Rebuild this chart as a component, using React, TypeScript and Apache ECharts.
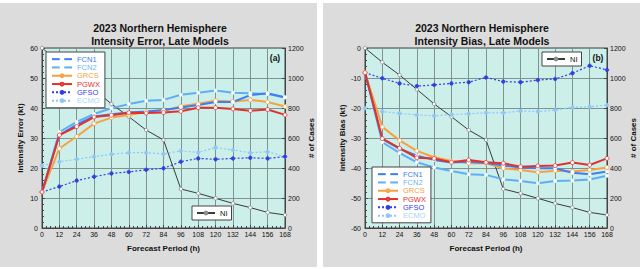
import React, { useEffect, useRef } from 'react';
import * as echarts from 'echarts';

const hours = [0, 12, 24, 36, 48, 60, 72, 84, 96, 108, 120, 132, 144, 156, 168];
const models = ['FCN1', 'FCN2', 'GRCS', 'PGWX', 'GFSO', 'ECMO'];

// Panel (a): intensity error (kt)
const errFCN1 = [12, 31, 34.5, 37.2, 37.9, 38.5, 38.8, 39.3, 40.2, 41, 42, 42, 44.3, 44.9, 43.5];
const errFCN2 = [12, 32, 35.4, 38, 39.9, 41.3, 42.4, 42.7, 44.4, 45.1, 45.8, 45.1, 44.9, 44.7, 43.6];
const errGRCS = [12, 26.5, 30.5, 34.8, 36.8, 37.7, 38.7, 38.9, 40.6, 41.4, 42.4, 42.2, 42.7, 42, 40.5];
const errPGWX = [12, 31, 33.8, 37, 37.6, 38.4, 38.3, 38.5, 38.9, 40.1, 40.1, 39.7, 39.1, 39.5, 37.7];
const errGFSO = [12, 13.8, 15.8, 17.1, 18.2, 18.7, 19.4, 19.9, 22.1, 23.2, 22.9, 23.2, 23.4, 23.2, 23.8];
const errECMO = [20.8, 22.1, 22.9, 23.8, 24.6, 25.1, 25.1, 24.7, 25.7, 25.2, 26.8, 26, 25.1, 25.4, 23.8];

// Panel (b): intensity bias (kt)
const biasFCN1 = [-8.2, -30.3, -33.6, -35.9, -37.3, -38.2, -37.9, -38.3, -39.2, -39.8, -40.1, -40.1, -41.6, -42.1, -41.2];
const biasFCN2 = [-8.2, -31.4, -35, -38.1, -39.8, -41, -42.1, -42.3, -43.8, -44.3, -45.1, -44.3, -44.2, -43.8, -42.6];
const biasGRCS = [-8.2, -26.3, -30.8, -34.3, -36.4, -37.7, -38.4, -38.4, -40.1, -40.7, -41.4, -40.9, -41.2, -40.7, -39.8];
const biasPGWX = [-8.2, -30.2, -33.4, -36.6, -36.8, -38.1, -37.3, -38.1, -38.4, -39.6, -39.3, -39.2, -38.2, -39, -36.8];
const biasGFSO = [-8.2, -10.1, -11.8, -12.7, -12.3, -11.8, -11.4, -9.8, -11.2, -11.4, -10.7, -10.3, -8.4, -5.9, -7.3];
const biasECMO = [-20.1, -21.2, -21.8, -22.3, -22.6, -22.2, -21.9, -21.6, -21.6, -21, -21.2, -20.7, -19.8, -19.6, -19];

// Number of cases (both panels)
const casesNI = [1200, 1105, 1020, 924, 827, 742, 653, 587, 260, 231, 198, 164, 136, 104, 87];

const FONT = 'Liberation Sans, Arial, Helvetica, sans-serif';

const styles: Record<string, any> = {
  FCN1: { line: '#3d7ef2', text: '#3d7ef2', width: 2, type: 'solid', symbol: 'circle', size: 3, fill: '#ffffff', border: '#ffffff' },
  FCN2: { line: '#5eaef6', text: '#6ab6f7', width: 2, type: 'solid', symbol: 'circle', size: 3, fill: '#ffffff', border: '#ffffff' },
  GRCS: { line: '#f7a040', text: '#f7a040', width: 2, type: 'solid', symbol: 'circle', size: 4, fill: '#ffffff', border: '#f7a040' },
  PGWX: { line: '#e4302c', text: '#e4302c', width: 2, type: 'solid', symbol: 'circle', size: 4, fill: '#ffffff', border: '#e4302c' },
  GFSO: { line: '#2f3fe6', text: '#2f3fe6', width: 1.2, type: [2, 2], symbol: 'circle', size: 3.5, fill: '#2f3fe6', border: '#2f3fe6' },
  ECMO: { line: '#8ec8f7', text: '#a8d4f8', width: 1.2, type: [2, 2], symbol: 'circle', size: 3.5, fill: '#8ec8f7', border: '#8ec8f7' },
};

function pairs(vals: number[]) {
  return hours.map((h, i) => [h, vals[i]]);
}

function modelSeries(name: string, vals: number[], gi: number) {
  const s = styles[name];
  return {
    type: 'line', name, xAxisIndex: gi, yAxisIndex: gi * 2,
    data: pairs(vals), symbol: s.symbol, symbolSize: s.size, showSymbol: true,
    lineStyle: { color: s.line, width: s.width, type: s.type },
    itemStyle: { color: s.fill, borderColor: s.border, borderWidth: 0.8 },
    z: 3,
  };
}

function niSeries(gi: number) {
  return {
    type: 'line', name: 'NI', xAxisIndex: gi, yAxisIndex: gi * 2 + 1,
    data: pairs(casesNI), symbol: 'circle', symbolSize: 3.5,
    lineStyle: { color: '#3a3a3a', width: 1 },
    itemStyle: { color: '#ffffff', borderColor: '#888888', borderWidth: 0.8 },
    z: 2,
  };
}

const axisText = { fontSize: 7, color: '#111', fontFamily: FONT };
const nameText = { fontSize: 8, fontWeight: 'bold' as const, color: '#111', fontFamily: FONT };

function xAxis(gi: number) {
  return {
    type: 'value', gridIndex: gi, min: 0, max: 168, interval: 12,
    name: 'Forecast Period (h)', nameLocation: 'middle', nameGap: 16, nameTextStyle: nameText,
    axisLine: { show: true, onZero: false, lineStyle: { color: '#444' } },
    axisTick: { show: true, inside: true, length: 3, lineStyle: { color: '#444' } },
    minorTick: { show: true, splitNumber: 4, length: 2, lineStyle: { color: '#444' } },
    axisLabel: { ...axisText, margin: 3 },
    splitLine: { show: true, lineStyle: { color: '#7f9492', width: 1 } },
  };
}

function yLeft(gi: number, name: string, min: number, max: number) {
  return {
    type: 'value', gridIndex: gi, position: 'left', min, max, interval: 10,
    name, nameLocation: 'middle', nameGap: 18, nameRotate: 90, nameTextStyle: nameText,
    axisLine: { show: true, onZero: false, lineStyle: { color: '#444' } },
    axisTick: { show: true, inside: true, length: 3, lineStyle: { color: '#444' } },
    minorTick: { show: true, splitNumber: 5, length: 2, lineStyle: { color: '#444' } },
    axisLabel: { ...axisText, margin: 4 },
    splitLine: { show: true, lineStyle: { color: '#7f9492', width: 1 } },
  };
}

function yRight(gi: number) {
  return {
    type: 'value', gridIndex: gi, position: 'right', min: 0, max: 1200, interval: 200,
    name: '# of Cases', nameLocation: 'middle', nameGap: 16, nameRotate: 90, nameTextStyle: nameText,
    axisLine: { show: true, onZero: false, lineStyle: { color: '#444' } },
    axisTick: { show: true, inside: true, length: 3, lineStyle: { color: '#444' } },
    axisLabel: { ...axisText, margin: 3, formatter: (v: number) => String(v) },
    splitLine: { show: false },
  };
}

function modelLegend(left: number, top: number) {
  return {
    left, top, orient: 'vertical', selectedMode: false,
    backgroundColor: '#ffffff', borderColor: '#444', borderWidth: 1,
    padding: [3, 5, 3, 5], itemWidth: 20, itemHeight: 3.5, itemGap: 0,
    textStyle: { fontSize: 7.5, lineHeight: 8.3, fontFamily: FONT },
    data: models.map((m) => ({ name: m, textStyle: { color: styles[m].text } })),
  };
}

function niLegend(left: number, top: number) {
  return {
    left, top, orient: 'horizontal', selectedMode: false,
    backgroundColor: '#ffffff', borderColor: '#444', borderWidth: 1,
    padding: [3, 4, 3, 4], itemWidth: 18, itemHeight: 3.5,
    textStyle: { fontSize: 7.5, lineHeight: 8, fontFamily: FONT, color: '#111' },
    data: ['NI'],
  };
}

function titleText(x: number, y: number, text: string) {
  return {
    type: 'text', x, y, z: 100,
    style: { text, align: 'center', verticalAlign: 'middle', fill: '#111', font: `bold 10.5px ${FONT}` },
  };
}

const option: any = {
  animation: false,
  backgroundColor: '#ffffff',
  graphic: [
    { type: 'rect', shape: { x: 0, y: 3, width: 317, height: 264 }, style: { fill: '#dcdcdc' }, z: -100 },
    { type: 'rect', shape: { x: 323, y: 3, width: 317, height: 264 }, style: { fill: '#dcdcdc' }, z: -100 },
    titleText(160, 27.5, '2023 Northern Hemisphere'),
    titleText(160, 40.5, 'Intensity Error, Late Models'),
    titleText(482, 27.5, '2023 Northern Hemisphere'),
    titleText(482, 40.5, 'Intensity Bias, Late Models'),
    { type: 'text', x: 275, y: 58, z: 100, style: { text: '(a)', align: 'center', verticalAlign: 'middle', fill: '#111', font: `bold 8.5px ${FONT}` } },
    { type: 'text', x: 598, y: 58, z: 100, style: { text: '(b)', align: 'center', verticalAlign: 'middle', fill: '#111', font: `bold 8.5px ${FONT}` } },
  ],
  grid: [
    { left: 42, top: 48, width: 243, height: 180, show: true, backgroundColor: '#ccefe9', borderColor: '#444', borderWidth: 1 },
    { left: 365, top: 48, width: 242, height: 180, show: true, backgroundColor: '#ccefe9', borderColor: '#444', borderWidth: 1 },
  ],
  xAxis: [xAxis(0), xAxis(1)],
  yAxis: [
    yLeft(0, 'Intensity Error (kt)', 0, 60), yRight(0),
    yLeft(1, 'Intensity Bias (kt)', -60, 0), yRight(1),
  ],
  legend: [modelLegend(46, 52), niLegend(192, 206), modelLegend(372, 167), niLegend(542, 52)],
  series: [
    niSeries(0),
    modelSeries('ECMO', errECMO, 0),
    modelSeries('GFSO', errGFSO, 0),
    modelSeries('GRCS', errGRCS, 0),
    modelSeries('FCN2', errFCN2, 0),
    modelSeries('FCN1', errFCN1, 0),
    modelSeries('PGWX', errPGWX, 0),
    niSeries(1),
    modelSeries('ECMO', biasECMO, 1),
    modelSeries('GFSO', biasGFSO, 1),
    modelSeries('GRCS', biasGRCS, 1),
    modelSeries('FCN2', biasFCN2, 1),
    modelSeries('FCN1', biasFCN1, 1),
    modelSeries('PGWX', biasPGWX, 1),
  ],
};

export default function App() {
  const ref = useRef<HTMLDivElement>(null);
  useEffect(() => {
    document.body.style.margin = '0';
    const chart = echarts.init(ref.current!, null, { renderer: 'svg' });
    chart.setOption(option);
    return () => chart.dispose();
  }, []);
  return <div ref={ref} style={{ width: 640, height: 269 }} />;
}
